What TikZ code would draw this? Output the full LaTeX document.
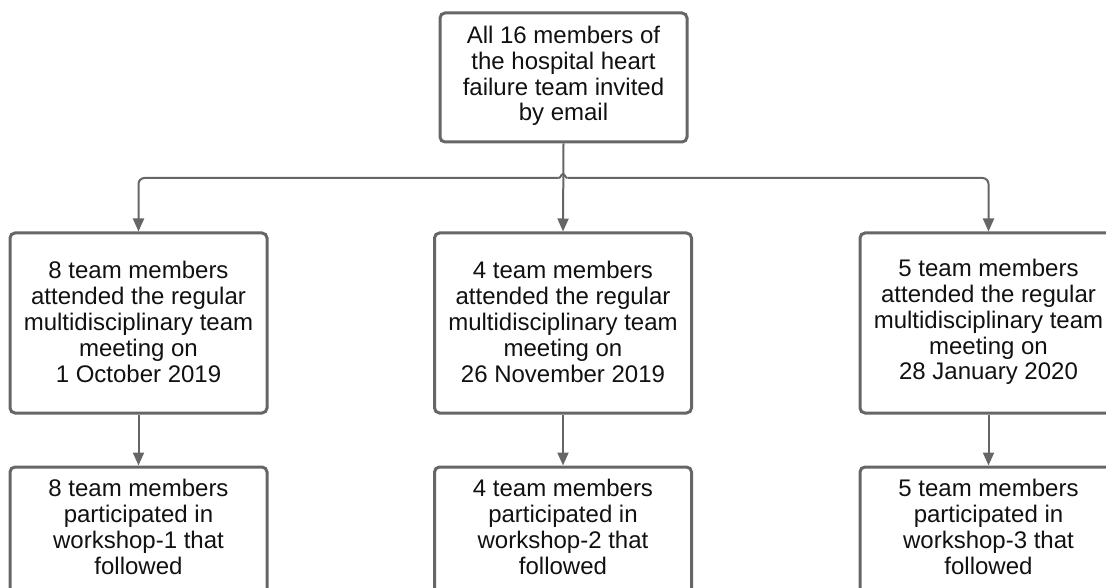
\documentclass[tikz,border=0pt]{standalone}
\usepackage{fontspec}
\setmainfont{Liberation Sans}
\usetikzlibrary{arrows.meta}
\definecolor{linegray}{HTML}{666666}
\definecolor{inkblack}{HTML}{111111}
\tikzset{
  box/.style={draw=linegray, line width=3pt, rounded corners=5pt, fill=white,
    minimum width=257pt, minimum height=180pt, inner sep=0pt},
  label/.style={align=center, text=inkblack, inner sep=0pt,
    font=\fontsize{24}{25.8}\selectfont},
  conn/.style={draw=linegray, line width=2pt},
  arrowconn/.style={conn, -{Triangle[length=13pt,width=11pt]}},
}
\begin{document}
\begin{tikzpicture}[x=1pt,y=-1pt]
\useasboundingbox (0,0) rectangle (1106,588);
\clip (0,0) rectangle (1106,588);

% invitation box
\node[box, minimum width=247pt, minimum height=129pt] (top) at (563.5,77.5) {};
\node[label] (topt) at (563.5,76) {All 16 members of\\the hospital heart\\failure team invited\\by email};

% meeting boxes
\node[box] (m1) at (138.5,323) {};
\node[box] (m2) at (563,323) {};
\node[box] (m3) at (988.5,323) {};
\node[label] (m1t) at (138.5,322) {8 team members\\attended the regular\\multidisciplinary team\\meeting on\\1 October 2019};
\node[label] (m2t) at (563,322) {4 team members\\attended the regular\\multidisciplinary team\\meeting on\\26 November 2019};
\node[label] (m3t) at (988.5,322) {5 team members\\attended the regular\\multidisciplinary team\\meeting on\\28 January 2020};

% workshop boxes
\node[box] (w1) at (138.5,557) {};
\node[box] (w2) at (563,557) {};
\node[box] (w3) at (988.5,557) {};
\node[label] (w1t) at (138.5,527) {8 team members\\participated in\\workshop-1 that\\followed};
\node[label] (w2t) at (563,527) {4 team members\\participated in\\workshop-2 that\\followed};
\node[label] (w3t) at (988.5,527) {5 team members\\participated in\\workshop-3 that\\followed};

% branching connectors with a line hop over the trunk
\coordinate (hopL) at (558.5,178);
\coordinate (hopR) at (567.5,178);
\draw[arrowconn] (top.south) -- (m2.north);
\draw[arrowconn, rounded corners=6pt] (hopL) -| (m1.north);
\draw[arrowconn, rounded corners=6pt] (hopR) -| (m3.north);
\draw[conn] (hopL) .. controls (561,178) and (561,174) .. (563,174)
  .. controls (565,174) and (565,178) .. (hopR);

% meeting to workshop
\draw[arrowconn] (m1.south) -- (w1.north);
\draw[arrowconn] (m2.south) -- (w2.north);
\draw[arrowconn] (m3.south) -- (w3.north);
\end{tikzpicture}
\end{document}
